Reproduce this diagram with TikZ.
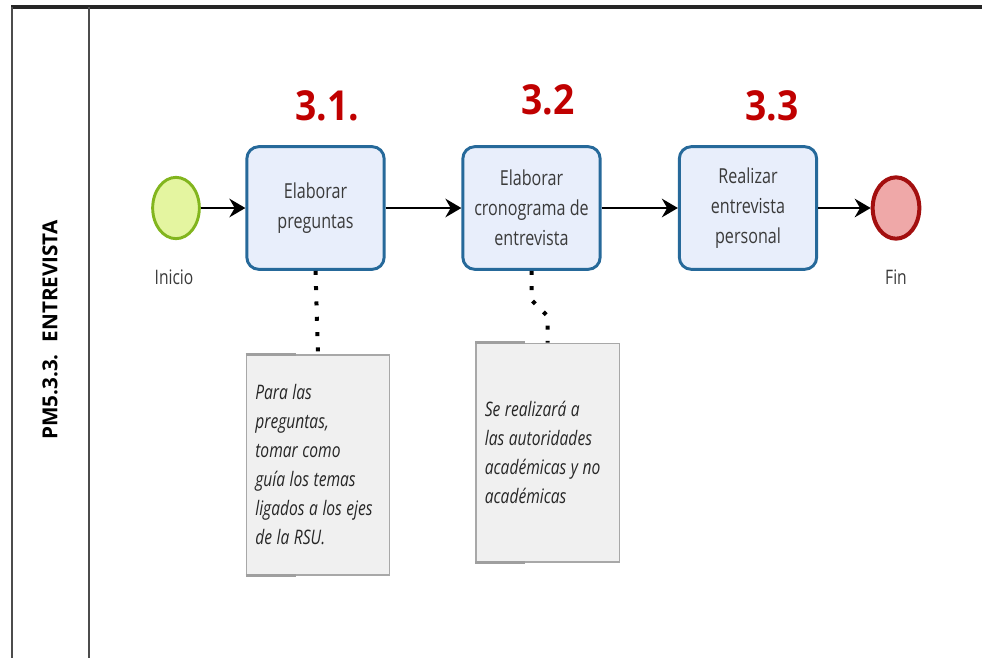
\documentclass[tikz,border=0pt]{standalone}
\usepackage{fontspec}
\usepackage{xcolor}
\usepackage{tikz}
\usetikzlibrary{arrows.meta, positioning, shapes.geometric}
\newfontfamily\bpmnfont[FakeStretch=0.78]{Open Sans}
\newfontfamily\stepfont[FakeStretch=0.9]{Open Sans}
\newfontfamily\lanefont{Open Sans}
\definecolor{taskfill}{HTML}{E8EEFB}
\definecolor{taskdraw}{HTML}{26699A}
\definecolor{tasktext}{HTML}{3A3A3A}
\definecolor{startfill}{HTML}{E4F5A0}
\definecolor{startdraw}{HTML}{82B51E}
\definecolor{endfill}{HTML}{EFA8A8}
\definecolor{enddraw}{HTML}{A30F0F}
\definecolor{stepred}{HTML}{C00000}
\definecolor{notefill}{HTML}{F0F0F0}
\definecolor{notedraw}{HTML}{A8A8A8}
\tikzset{
  taskbox/.style={
    draw=taskdraw, fill=taskfill, line width=2.2pt, rounded corners=9pt,
    minimum width=103pt, minimum height=92pt, align=center, text=tasktext,
    font=\bpmnfont\fontsize{15.5}{22.5}\selectfont
  },
  startevent/.style={
    ellipse, draw=startdraw, fill=startfill, line width=2.2pt,
    minimum width=35pt, minimum height=46pt, inner sep=0pt
  },
  endevent/.style={
    ellipse, draw=enddraw, fill=endfill, line width=3pt,
    minimum width=35pt, minimum height=46pt, inner sep=0pt
  },
  eventlabel/.style={
    text=tasktext, font=\bpmnfont\fontsize{15}{17}\selectfont
  },
  steplabel/.style={
    text=stepred, font=\stepfont\bfseries\fontsize{31}{31}\selectfont
  },
  notebox/.style={
    draw=notedraw, fill=notefill, line width=1pt, align=flush left,
    text width=94pt, inner xsep=6.75pt, text=black!85,
    font=\bpmnfont\itshape\fontsize{15}{21.75}\selectfont
  },
  notemark/.style={draw=gray!75, line width=2pt},
  flowarrow/.style={
    -{Stealth[length=12pt, width=14pt, inset=4pt]}, line width=1.5pt
  },
  assocline/.style={line width=3pt, dash pattern=on 3pt off 8.5pt},
  laneline/.style={line width=1.5pt, draw=gray!60!black},
}

\begin{document}
\begin{tikzpicture}[x=0.75pt, y=-0.75pt]
  \useasboundingbox (0,0) rectangle (982,658);

  % --- Pool and lane ---
  \draw[line width=2.5pt, draw=black!85] (11,7) -- (982,7);
  \draw[laneline] (12,7) -- (12,658);
  \draw[laneline] (89,7) -- (89,658);
  \node[rotate=90, font=\lanefont\bfseries\fontsize{15.5}{15.5}\selectfont]
    (lane) at (50,330) {PM5.3.3.\hspace{9pt}ENTREVISTA};

  % --- Events ---
  \node[startevent] (inicio) at (176,208) {};
  \node[endevent] (fin) at (896,208) {};
  \node[eventlabel] (inicioname) at (174,277) {Inicio};
  \node[eventlabel] (finname) at (896,277) {Fin};

  % --- Tasks ---
  \node[taskbox] (t1) at (315.5,208) {Elaborar\\preguntas};
  \node[taskbox] (t2) at (531.5,208) {Elaborar\\cronograma de\\entrevista};
  \node[taskbox] (t3) at (748,208) {Realizar\\entrevista\\personal};

  % --- Step numbers ---
  \node[steplabel] (s1) at (327,106) {3.1.};
  \node[steplabel] (s2) at (548,100) {3.2};
  \node[steplabel] (s3) at (772,106) {3.3};

  % --- Sequence flow ---
  \draw[flowarrow] (inicio) -- (t1);
  \draw[flowarrow] (t1) -- (t2);
  \draw[flowarrow] (t2) -- (t3);
  \draw[flowarrow] (t3) -- (fin);

  % --- Annotations ---
  \node[notebox, minimum height=165pt] (n1) at (318,465)
    {\spaceskip=3.4pt Para las\\preguntas,\\tomar como\\guía los temas\\ligados a los ejes\\de la RSU.};
  \node[notebox, minimum height=164pt] (n2) at (547.5,452.5)
    {\spaceskip=3.4pt Se realizará a\\las autoridades\\académicas y no\\académicas};
  \draw[notemark] (n1.north west) -- ++(50,0);
  \draw[notemark] (n1.south west) -- ++(50,0);
  \draw[notemark] (n2.north west) -- ++(50,0);
  \draw[notemark] (n2.south west) -- ++(50,0);

  % --- Associations ---
  \coordinate (a2) at (531.5,300);
  \coordinate (b2) at (547.5,316);
  \draw[assocline] (t1.south) -- (n1.north);
  \draw[assocline] (t2.south) -- (a2) -- (b2) -- (n2.north);
\end{tikzpicture}
\end{document}
